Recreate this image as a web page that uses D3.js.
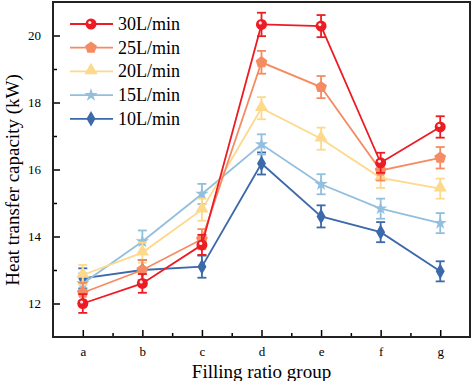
<!DOCTYPE html>
<html><head><meta charset="utf-8">
<script src="https://cdn.jsdelivr.net/npm/d3@7"></script>
<style>body{margin:0;background:#fff}svg{display:block}text{font-family:"Liberation Serif","Times New Roman",serif}</style>
</head><body>
<script>
const categories = ["a","b","c","d","e","f","g"];
const seriesNames = ["30L/min","25L/min","20L/min","15L/min","10L/min"];
const v30 = [12.0, 12.6, 13.75, 20.33, 20.28, 16.2, 17.27];
const e30 = [0.28, 0.28, 0.3, 0.35, 0.33, 0.3, 0.32];
const v25 = [12.32, 13.0, 13.92, 19.2, 18.46, 15.97, 16.35];
const e25 = [0.3, 0.3, 0.3, 0.34, 0.33, 0.3, 0.32];
const v20 = [12.85, 13.52, 14.8, 17.83, 16.92, 15.75, 15.43];
const e20 = [0.3, 0.3, 0.33, 0.33, 0.33, 0.3, 0.3];
const v15 = [12.6, 13.85, 15.27, 16.75, 15.56, 14.83, 14.4];
const e15 = [0.3, 0.33, 0.3, 0.3, 0.3, 0.3, 0.3];
const v10 = [12.75, 13.0, 13.1, 16.18, 14.6, 14.13, 12.96];
const e10 = [0.3, 0.3, 0.33, 0.33, 0.33, 0.3, 0.3];
const yTicks = [12, 14, 16, 18, 20];
const colors = ["#ec1c24","#f58b62","#fdd98c","#92bfdd","#3b69aa"];
const markers = ["circle","pentagon","triangle","star","diamond"];
const values = [v30, v25, v20, v15, v10];
const errors = [e30, e25, e20, e15, e10];

const W = 472, H = 381;
const m = {l:53, t:2, r:470, b:337};
const svg = d3.select("body").append("svg").attr("width", W).attr("height", H);
const x = d3.scaleLinear().domain([-0.5, 6.5]).range([m.l, m.r]);
const y = d3.scaleLinear().domain([11, 21]).range([m.b, m.t]);

const gx = svg.append("g").attr("transform", `translate(0,${m.b})`)
  .call(d3.axisBottom(x).tickValues(d3.range(7)).tickFormat(i => categories[i]).tickSizeInner(-7).tickSizeOuter(0).tickPadding(10));
const gxm = svg.append("g").attr("transform", `translate(0,${m.b})`)
  .call(d3.axisBottom(x).tickValues([0.5,1.5,2.5,3.5,4.5,5.5]).tickFormat("").tickSizeInner(-4).tickSizeOuter(0));
const gy = svg.append("g").attr("transform", `translate(${m.l},0)`)
  .call(d3.axisLeft(y).tickValues(yTicks).tickSizeInner(-7).tickSizeOuter(0).tickPadding(12));
const gym = svg.append("g").attr("transform", `translate(${m.l},0)`)
  .call(d3.axisLeft(y).tickValues([13,15,17,19]).tickFormat("").tickSizeInner(-4).tickSizeOuter(0));
gxm.selectAll("text").remove();
gym.selectAll("text").remove();
[gx,gxm,gy,gym].forEach(g => {
  g.selectAll("path.domain").remove();
  g.selectAll("line").attr("stroke","#000").attr("stroke-width",1.5);
  g.selectAll("text").attr("font-size",13).attr("fill","#000");
});
svg.append("rect").attr("x",m.l).attr("y",m.t).attr("width",m.r-m.l).attr("height",m.b-m.t)
  .attr("fill","none").attr("stroke","#222").attr("stroke-width",2);

function pentagonPath(r){
  const pts = d3.range(5).map(i => { const a = -Math.PI/2 + i*2*Math.PI/5; return [r*Math.cos(a), r*Math.sin(a)]; });
  return "M" + pts.map(p => p.join(",")).join("L") + "Z";
}
function drawMarker(g, type, color, cx, cy){
  const t = g.append("g").attr("transform", `translate(${cx},${cy})`);
  if (type === "circle") {
    t.append("circle").attr("r",5.5).attr("fill",color);
    t.append("circle").attr("r",1.6).attr("cx",-1.2).attr("cy",-1.5).attr("fill","#fff").attr("opacity",0.9);
  } else if (type === "pentagon") {
    t.append("path").attr("d", pentagonPath(6.2)).attr("fill", color);
  } else if (type === "triangle") {
    t.append("path").attr("d", d3.symbol(d3.symbolTriangle, 75)()).attr("fill", color).attr("transform","translate(0,-1)");
  } else if (type === "star") {
    t.append("path").attr("d", d3.symbol(d3.symbolStar, 55)()).attr("fill", color);
  } else {
    t.append("path").attr("d", d3.symbol(d3.symbolDiamond, 70)()).attr("fill", color);
  }
}

const line = d3.line().x((d,i) => x(i)).y(d => y(d));
for (let s = 4; s >= 0; s--) {
  const g = svg.append("g");
  const c = colors[s];
  g.append("path").datum(values[s]).attr("d", line).attr("fill","none").attr("stroke",c).attr("stroke-width",1.8);
  values[s].forEach((v,i) => {
    const e = errors[s][i];
    const xi = x(i);
    g.append("line").attr("x1",xi).attr("x2",xi).attr("y1",y(v-e)).attr("y2",y(v+e)).attr("stroke",c).attr("stroke-width",1.8);
    [v-e, v+e].forEach(b => g.append("line").attr("x1",xi-4.5).attr("x2",xi+4.5).attr("y1",y(b)).attr("y2",y(b)).attr("stroke",c).attr("stroke-width",1.8));
    drawMarker(g, markers[s], c, xi, y(v));
  });
}

const leg = svg.append("g");
seriesNames.forEach((n, s) => {
  const ly = 24 + s*23.7;
  leg.append("line").attr("x1",70).attr("x2",113).attr("y1",ly).attr("y2",ly).attr("stroke",colors[s]).attr("stroke-width",1.8);
  drawMarker(leg, markers[s], colors[s], 91, ly);
  leg.append("text").attr("x",118).attr("y",ly+6).text(n).attr("font-size",18).attr("fill","#000");
});

svg.append("text").attr("x",(m.l+m.r)/2).attr("y",378).attr("text-anchor","middle")
  .attr("font-size",19).text("Filling ratio group");
svg.append("text").attr("transform",`translate(19,180) rotate(-90)`).attr("text-anchor","middle")
  .attr("font-size",19).text("Heat transfer capacity (kW)");
</script>
</body></html>
